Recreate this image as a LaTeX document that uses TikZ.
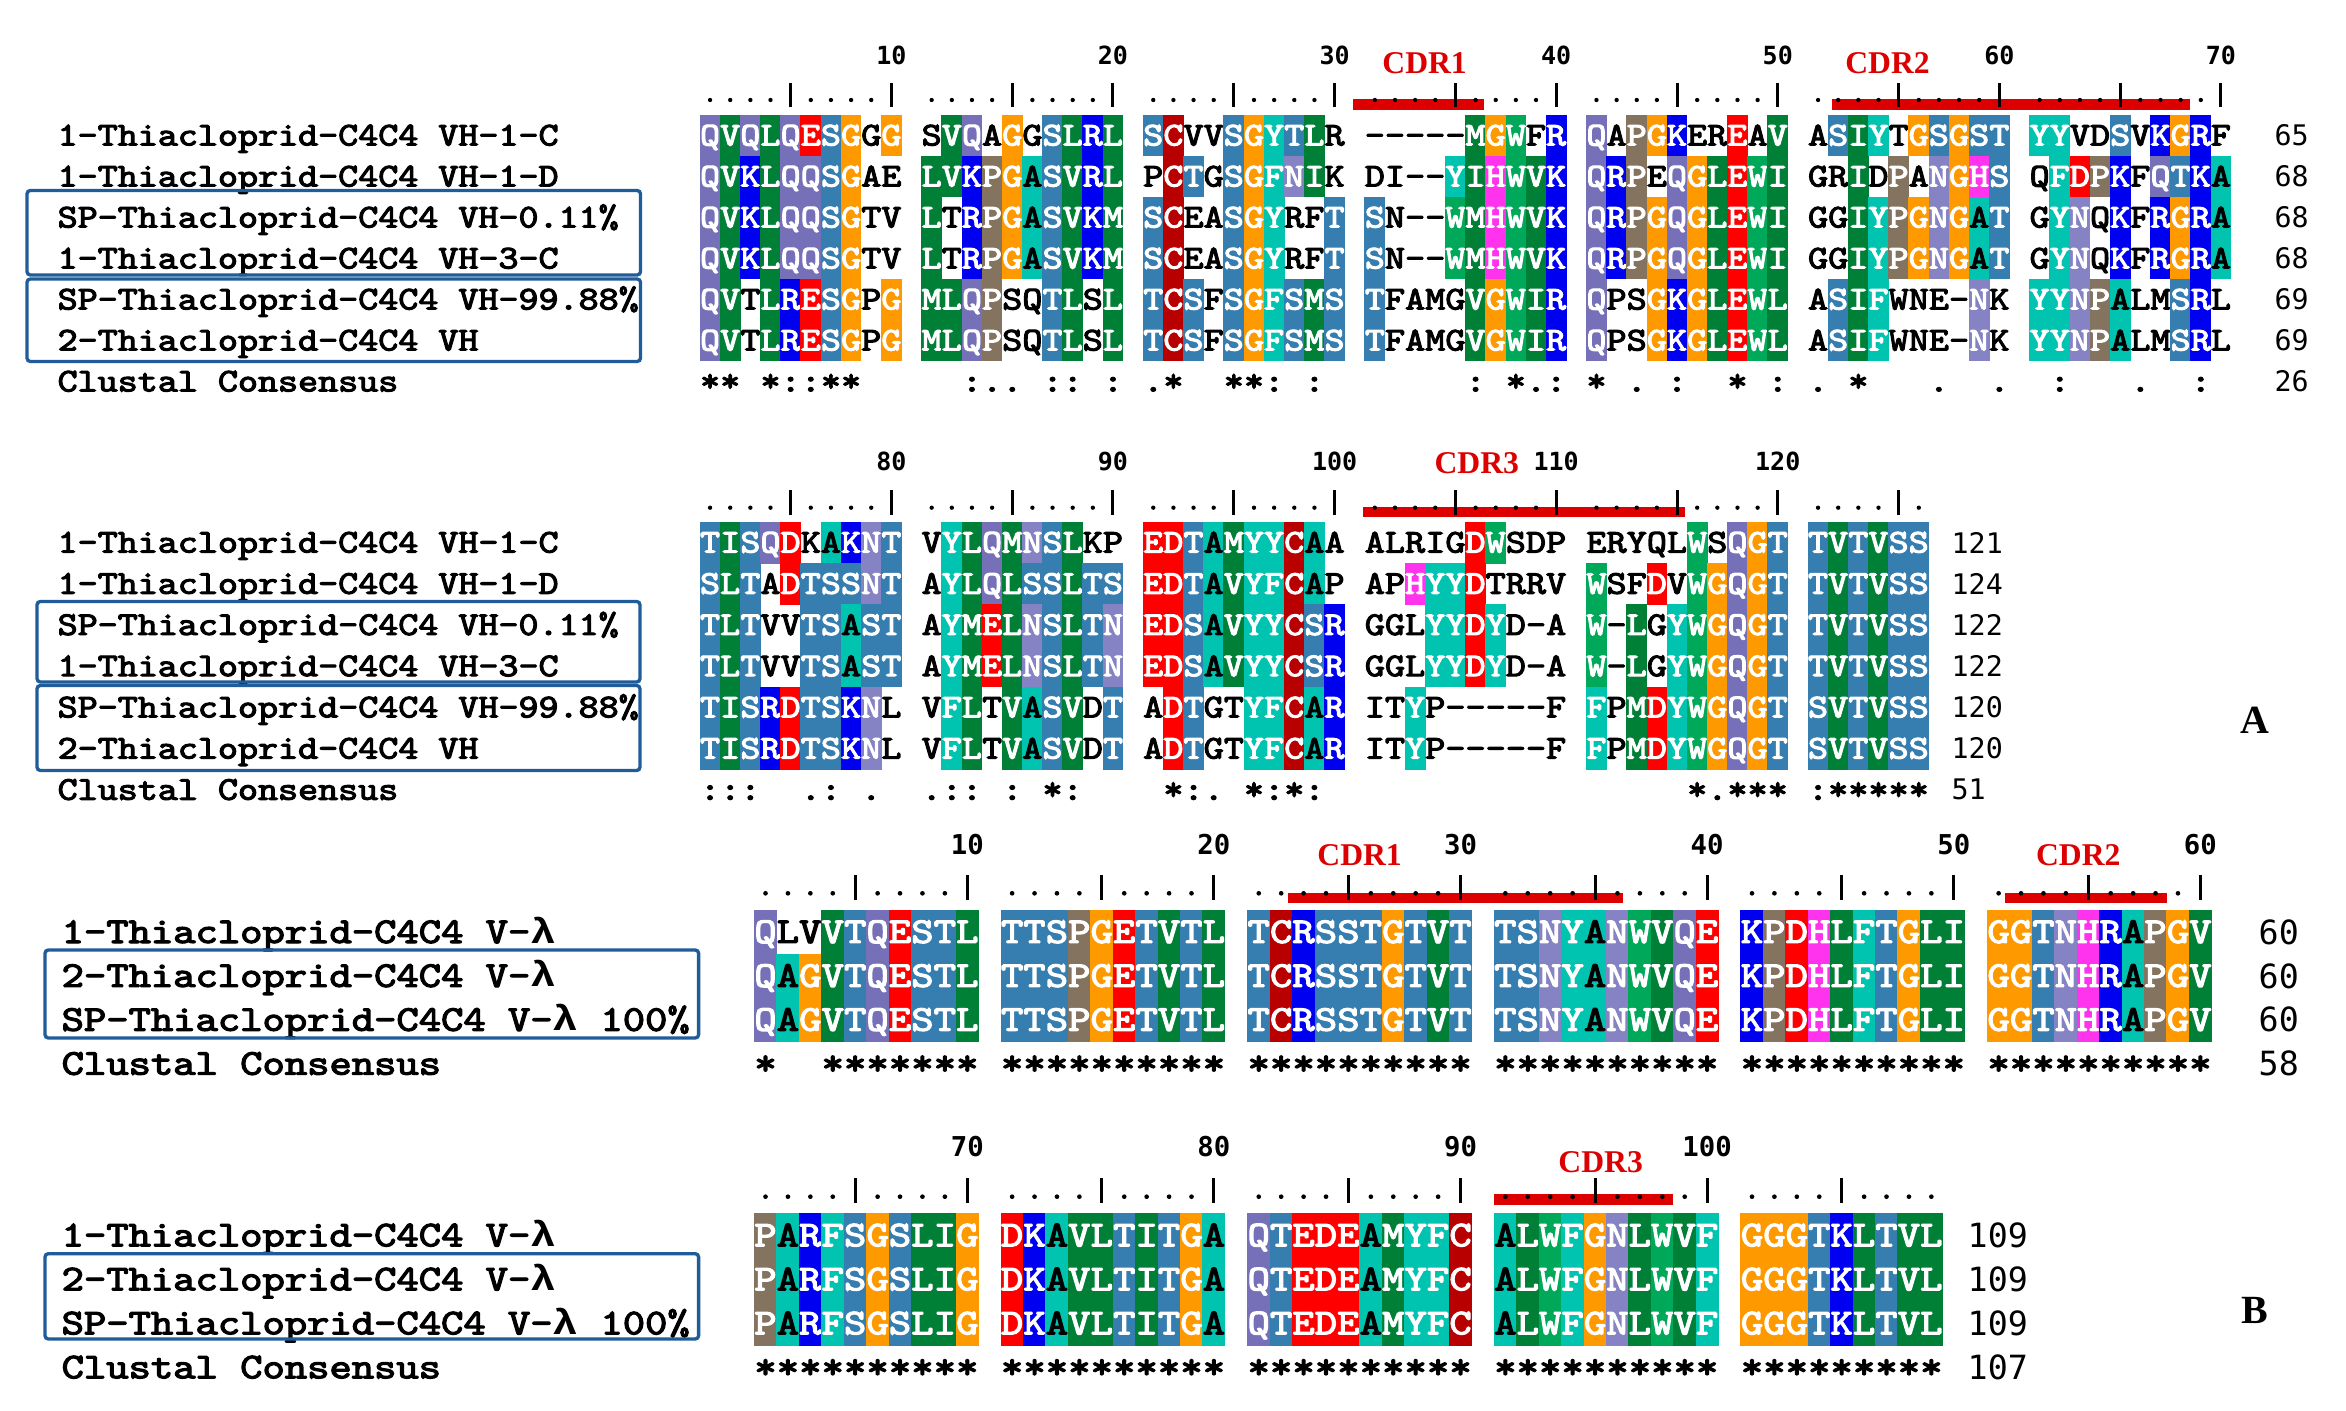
\documentclass[tikz,border=0pt]{standalone}
\usepackage{fontspec}
\setmainfont{Liberation Serif}
\newfontfamily\lmono{Liberation Mono}
\newfontfamily\dmono{DejaVu Sans Mono}
\newfontfamily\cmono{lmmono10-regular.otf}[FakeBold=3]
\definecolor{resQ}{RGB}{117,112,184}
\definecolor{resN}{RGB}{134,131,196}
\definecolor{resV}{RGB}{0,128,55}
\definecolor{resL}{RGB}{0,128,55}
\definecolor{resI}{RGB}{0,128,55}
\definecolor{resM}{RGB}{0,128,55}
\definecolor{resW}{RGB}{0,168,89}
\definecolor{resG}{RGB}{255,153,0}
\definecolor{resS}{RGB}{54,125,176}
\definecolor{resT}{RGB}{54,125,176}
\definecolor{resE}{RGB}{255,0,0}
\definecolor{resD}{RGB}{255,0,0}
\definecolor{resC}{RGB}{184,0,0}
\definecolor{resK}{RGB}{0,0,240}
\definecolor{resR}{RGB}{0,0,240}
\definecolor{resY}{RGB}{0,196,176}
\definecolor{resF}{RGB}{0,196,176}
\definecolor{resA}{RGB}{0,196,176}
\definecolor{resP}{RGB}{131,115,95}
\definecolor{resH}{RGB}{255,51,238}
\definecolor{cdrred}{RGB}{221,0,0}
\definecolor{boxblue}{RGB}{31,92,153}
\newcommand\lbA[1]{\scalebox{1.145}[1]{#1}}
\newcommand\lbB[1]{\scalebox{1.17}[1]{#1}}
\newcommand\lam{{\lmono\bfseries λ}}
\newcount\seqpos
\def\seqparse#1{\ifx#1\relax\else\seqchar#1\expandafter\seqparse\fi}
\def\seqchar#1{%
  \ifnum`#1<65
    \if/#1\else\if,#1\else
      \node[seqtxt,text=black] at ({\sxo+(\the\seqpos+0.5)*\scw},\sbl) {\scalebox{\sxs}[1]{#1}};%
    \fi\fi
  \else
    \ifnum`#1>90
      \uppercase{\def\sU{#1}}%
      \node[seqtxt,text=black] at ({\sxo+(\the\seqpos+0.5)*\scw},\sbl) {\scalebox{\sxs}[1]{\sU}};%
    \else
      \fill[res#1] ({\sxo+\the\seqpos*\scw-0.3},\syt) rectangle ({\sxo+(\the\seqpos+1)*\scw+0.3},{\syt+\srh+0.4});%
      \if A#1\def\stc{black}\else\def\stc{white}\fi
      \node[seqtxt,text=\stc] at ({\sxo+(\the\seqpos+0.5)*\scw},\sbl) {\scalebox{\sxs}[1]{#1}};%
    \fi
  \fi
  \global\advance\seqpos by 1\relax}
\newcommand\seqrow[2]{\def\syt{#1}\pgfmathsetmacro\sbl{#1+0.5*\srh+\sbo}\global\seqpos=0\relax\seqparse#2\relax}
\newcommand\rulerline[9]{%
  \pgfmathtruncatemacro\rlast{#4-1}%
  \foreach \i in {0,...,\rlast}{%
    \pgfmathtruncatemacro\rblk{floor(\i/10)}%
    \pgfmathtruncatemacro\rpos{#3+\i}%
    \pgfmathsetmacro\rx{#1+(\i+\rblk+0.5)*#2}%
    \pgfmathtruncatemacro\rfive{mod(\rpos,5)}%
    \pgfmathtruncatemacro\rten{mod(\rpos,10)}%
    \ifnum\rfive=0 \draw[rtick] (\rx,#6) -- (\rx,#7);\else\fill (\rx,#5) circle[radius=\rdot];\fi
    \ifnum\rten=0 \node[#9] at (\rx,#8) {\rpos};\fi
  }}
\begin{document}
\begin{tikzpicture}[x=0.3pt,y=-0.3pt,
  lab/.style={font=\cmono\fontsize{10}{12}\selectfont, anchor=base west, inner sep=0pt},
  labb/.style={font=\cmono\fontsize{10.9}{13}\selectfont, anchor=base west, inner sep=0pt},
  cnt/.style={font=\dmono\fontsize{8.5}{10}\selectfont, anchor=west, inner sep=0pt},
  cntb/.style={font=\dmono\fontsize{10}{12}\selectfont, anchor=west, inner sep=0pt},
  rnum/.style={font=\dmono\bfseries\fontsize{7.5}{9}\selectfont, inner sep=0pt},
  rnumb/.style={font=\dmono\bfseries\fontsize{8.2}{10}\selectfont, inner sep=0pt},
  cdr/.style={font=\bfseries\fontsize{9.5}{11}\selectfont, text=cdrred, inner sep=0pt},
  cdrbar/.style={fill=cdrred},
  grpbox/.style={draw=boxblue, line width=1pt, rounded corners=1pt},
  rtick/.style={line width=0.9pt},
  panel/.style={font=\bfseries\fontsize{12}{14}\selectfont, inner sep=0pt}]
\useasboundingbox[fill=white] (0,0) rectangle (2346,1411);

% ================= Alignment 1 =================
\fill[cdrbar] (1352.9,99) rectangle (1483.9,110);
\fill[cdrbar] (1831.5,99) rectangle (2189.6,110.3);
\node[cdr] (cdr1a) at (1424.6,63.3) {CDR1};
\node[cdr] (cdr2a) at (1887.5,63.3) {CDR2};
\def\rdot{0.65pt}
\rulerline{700}{20.145}{1}{70}{100}{83.3}{106.7}{55}{rnum}
\def\sxo{700}\def\scw{20.145}\def\srh{41}\def\sbo{10}\def\sxs{1.145}
\tikzset{seqtxt/.style={font=\cmono\fontsize{10}{12}\selectfont, inner sep=0pt, anchor=base}}
\seqrow{115}{QVQLQESGgG/sVQaGgSLRL/SCvvSGYTLr/-----MGWfR/QaPGKerEaV/aSIYtGSGST/YYvdSvKGRf}
\seqrow{156}{QVKLQQSGae/LVKPGASVRL/pCTgSGFNIk/di--YIHWVK/QRPeQGLEWI/grIdPaNGHS/qFDPKfQTKA}
\seqrow{197}{QVKLQQSGtv/LtRPGASVKM/SCeaSGYrfT/Sn--WMHWVK/QRPGQGLEWI/ggIYPGNGAT/gYNqKfRGRA}
\seqrow{238}{QVKLQQSGtv/LtRPGASVKM/SCeaSGYrfT/Sn--WMHWVK/QRPGQGLEWI/ggIYPGNGAT/gYNqKfRGRA}
\seqrow{279}{QVtLRESGpG/MLQPsqTLsL/TCSfSGFSMS/TfamgVGWIR/QpsGKGLEWL/aSIFwne-Nk/YYNPAlmSRl}
\seqrow{320}{QVtLRESGpG/MLQPsqTLsL/TCSfSGFSMS/TfamgVGWIR/QpsGKGLEWL/aSIFwne-Nk/YYNPAlmSRl}
\seqrow{361}{**,*::**,,/,,:..,::,:/.*,,**:,:,/,,,,,:,*.:/*,.,:,,*,:/.,*,,,.,,./,:,,,.,,:,}
\node[lab] (a1l1) at (57,145.5) {\lbA{1-Thiacloprid-C4C4 VH-1-C}};
\node[lab] (a1l2) at (57,186.5) {\lbA{1-Thiacloprid-C4C4 VH-1-D}};
\node[lab] (a1l3) at (57,227.5) {\lbA{SP-Thiacloprid-C4C4 VH-0.11\%}};
\node[lab] (a1l4) at (57,268.5) {\lbA{1-Thiacloprid-C4C4 VH-3-C}};
\node[lab] (a1l5) at (57,309.5) {\lbA{SP-Thiacloprid-C4C4 VH-99.88\%}};
\node[lab] (a1l6) at (57,350.5) {\lbA{2-Thiacloprid-C4C4 VH}};
\node[lab] (a1l7) at (57,391.5) {\lbA{Clustal Consensus}};
\draw[grpbox] (27,190.5) rectangle (640.5,275);
\draw[grpbox] (27,279) rectangle (640.5,361.5);
\node[cnt] (a1n1) at (2274,135.5) {65};
\node[cnt] (a1n2) at (2274,176.5) {68};
\node[cnt] (a1n3) at (2274,217.5) {68};
\node[cnt] (a1n4) at (2274,258.5) {68};
\node[cnt] (a1n5) at (2274,299.5) {69};
\node[cnt] (a1n6) at (2274,340.5) {69};
\node[cnt] (a1n7) at (2274,381.5) {26};

% ================= Alignment 2 =================
\fill[cdrbar] (1362.5,506.7) rectangle (1685.4,517.3);
\node[cdr] (cdr3a) at (1476.8,463.3) {CDR3};
\rulerline{700}{20.145}{71}{56}{507.7}{490}{515}{461.7}{rnum}
\def\srh{41.2}
\seqrow{522}{TISQDkAKNT/vYLQMNSLkp/EDTAMYYCAa/alrigDWsdp/eryqlWsQGT/TVTVSS}
\seqrow{563.2}{SLTaDTSSNT/aYLQLSSLTS/EDTAVYFCAp/apHYYDtrrv/WsfDvWGQGT/TVTVSS}
\seqrow{604.4}{TLTvvTSAST/aYMELNSLTN/EDSAVYYCSR/gglYYDYd-a/W-LgYWGQGT/TVTVSS}
\seqrow{645.6}{TLTvvTSAST/aYMELNSLTN/EDSAVYYCSR/gglYYDYd-a/W-LgYWGQGT/TVTVSS}
\seqrow{686.8}{TISRDTSKNl/vFLtVASVdT/aDTgtYFCAR/itYp-----f/FpMDYWGQGT/SVTVSS}
\seqrow{728}{TISRDTSKNl/vFLtVASVdT/aDTgtYFCAR/itYp-----f/FpMDYWGQGT/SVTVSS}
\seqrow{769.2}{:::,,.:,.,/.::,:,*:,,/,*:.,*:*:,/,,,,,,,,,,/,,,,,*.***/:*****}
\node[lab] (a2l1) at (57,552.6) {\lbA{1-Thiacloprid-C4C4 VH-1-C}};
\node[lab] (a2l2) at (57,593.8) {\lbA{1-Thiacloprid-C4C4 VH-1-D}};
\node[lab] (a2l3) at (57,635) {\lbA{SP-Thiacloprid-C4C4 VH-0.11\%}};
\node[lab] (a2l4) at (57,676.2) {\lbA{1-Thiacloprid-C4C4 VH-3-C}};
\node[lab] (a2l5) at (57,717.4) {\lbA{SP-Thiacloprid-C4C4 VH-99.88\%}};
\node[lab] (a2l6) at (57,758.6) {\lbA{2-Thiacloprid-C4C4 VH}};
\node[lab] (a2l7) at (57,799.8) {\lbA{Clustal Consensus}};
\draw[grpbox] (37,601.5) rectangle (640,682);
\draw[grpbox] (37,685.5) rectangle (640,770.5);
\node[cnt] (a2n1) at (1951,542.6) {121};
\node[cnt] (a2n2) at (1951,583.8) {124};
\node[cnt] (a2n3) at (1951,625) {122};
\node[cnt] (a2n4) at (1951,666.2) {122};
\node[cnt] (a2n5) at (1951,707.4) {120};
\node[cnt] (a2n6) at (1951,748.6) {120};
\node[cnt] (a2n7) at (1951,789.8) {51};
\node[panel] (pA) at (2254.5,720) {A};

% ================= Alignment 3 =================
\fill[cdrbar] (1288.2,892.7) rectangle (1623.2,903.3);
\fill[cdrbar] (2005,892.7) rectangle (2167.3,903.3);
\node[cdr] (cdr1b) at (1359.6,855) {CDR1};
\node[cdr] (cdr2b) at (2078.3,855) {CDR2};
\def\rdot{0.7pt}
\rulerline{754.3}{22.42}{1}{60}{893.3}{875}{900}{845}{rnumb}
\def\sxo{754.3}\def\scw{22.42}\def\srh{43.9}\def\sbo{11}\def\sxs{1.17}
\tikzset{seqtxt/.style={font=\cmono\fontsize{10.9}{13}\selectfont, inner sep=0pt, anchor=base}}
\seqrow{910}{QlvVTQESTL/TTSPGETVTL/TCRSSTGTVT/TSNYANWVQE/KPDHLFTGLI/GGTNHRAPGV}
\seqrow{953.9}{QAGVTQESTL/TTSPGETVTL/TCRSSTGTVT/TSNYANWVQE/KPDHLFTGLI/GGTNHRAPGV}
\seqrow{997.8}{QAGVTQESTL/TTSPGETVTL/TCRSSTGTVT/TSNYANWVQE/KPDHLFTGLI/GGTNHRAPGV}
\seqrow{1041.7}{*,,*******/**********/**********/**********/**********/**********}
\node[labb] (a3l1) at (61,943) {\lbB{1-Thiacloprid-C4C4 V-\lam}};
\node[labb] (a3l2) at (61,986.9) {\lbB{2-Thiacloprid-C4C4 V-\lam}};
\node[labb] (a3l3) at (61,1030.8) {\lbB{SP-Thiacloprid-C4C4 V-\lam{} 100\%}};
\node[labb] (a3l4) at (61,1074.7) {\lbB{Clustal Consensus}};
\draw[grpbox] (45,950) rectangle (698.6,1038);
\node[cntb] (a3n1) at (2258,932) {60};
\node[cntb] (a3n2) at (2258,975.9) {60};
\node[cntb] (a3n3) at (2258,1019.8) {60};
\node[cntb] (a3n4) at (2258,1063.7) {58};

% ================= Alignment 4 =================
\fill[cdrbar] (1493.6,1194) rectangle (1673.2,1205);
\node[cdr] (cdr3b) at (1600.7,1161.7) {CDR3};
\rulerline{754.3}{22.42}{61}{49}{1196.7}{1178}{1203}{1146.7}{rnumb}
\def\srh{44}
\seqrow{1213.3}{PARFSGSLIG/DKAVLTITGA/QTEDEAMYFC/ALWFGNLWVF/GGGTKLTVL}
\seqrow{1257.3}{PARFSGSLIG/DKAVLTITGA/QTEDEAMYFC/ALWFGNLWVF/GGGTKLTVL}
\seqrow{1301.3}{PARFSGSLIG/DKAVLTITGA/QTEDEAMYFC/ALWFGNLWVF/GGGTKLTVL}
\seqrow{1345.3}{**********/**********/**********/**********/*********}
\node[labb] (a4l1) at (61,1246.3) {\lbB{1-Thiacloprid-C4C4 V-\lam}};
\node[labb] (a4l2) at (61,1290.3) {\lbB{2-Thiacloprid-C4C4 V-\lam}};
\node[labb] (a4l3) at (61,1334.3) {\lbB{SP-Thiacloprid-C4C4 V-\lam{} 100\%}};
\node[labb] (a4l4) at (61,1378.3) {\lbB{Clustal Consensus}};
\draw[grpbox] (45,1253.7) rectangle (698.6,1339);
\node[cntb] (a4n1) at (1967,1235.3) {109};
\node[cntb] (a4n2) at (1967,1279.3) {109};
\node[cntb] (a4n3) at (1967,1323.3) {109};
\node[cntb] (a4n4) at (1967,1367.3) {107};
\node[panel] (pB) at (2255,1310.5) {B};
\end{tikzpicture}
\end{document}
